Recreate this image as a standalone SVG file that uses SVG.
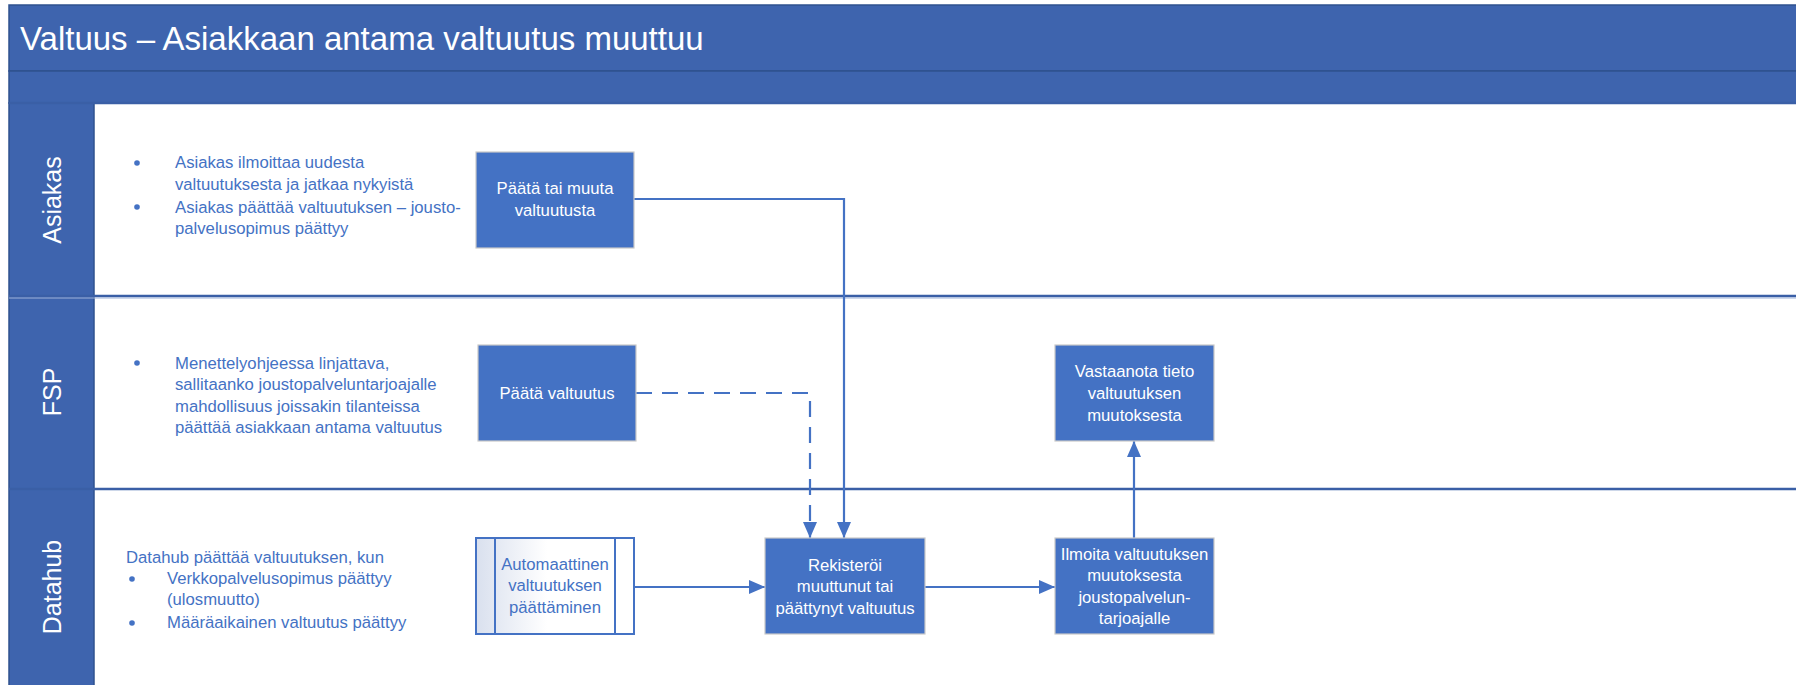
<svg xmlns="http://www.w3.org/2000/svg" width="1796" height="685" viewBox="0 0 1796 685">
<style>
text{font-family:"Liberation Sans",Arial,sans-serif}
.band{fill:#3E64AE;stroke:#2F528F;stroke-width:1.5}
.lane{fill:none;stroke:#3A5FA6;stroke-width:2.5}
.ltitle{fill:#ffffff;font-size:25px;text-anchor:middle}
.note{fill:#4472C4;font-size:16.7px}
.dot{fill:#4472C4}
.box{fill:#4472C4;stroke:#C9C9C9;stroke-width:1.2}
.bt{fill:#ffffff;font-size:16.7px;text-anchor:middle}
.sub{stroke:#4472C4;stroke-width:2}
.st{fill:#4472C4;font-size:16.7px;text-anchor:middle}
.c{fill:none;stroke:#4472C4;stroke-width:2.2}
.d{stroke-dasharray:16 10}
</style>
<defs>
<marker id="ah" viewBox="0 0 16 14" refX="16" refY="7" markerWidth="16" markerHeight="14" markerUnits="userSpaceOnUse" orient="auto">
<path d="M0,0 L16,7 L0,14 Z" fill="#4472C4"/>
</marker>
<linearGradient id="sg" x1="0" y1="0" x2="1" y2="0">
<stop offset="0" stop-color="#D9E0EE"/>
<stop offset="0.45" stop-color="#ffffff"/>
</linearGradient>
</defs>
<rect width="1796" height="685" fill="#ffffff"/>
<g id="pool">
<rect class="band" x="9" y="5" width="1800" height="66"/>
<text x="20" y="50" fill="#ffffff" style="font-size:33px">Valtuus – Asiakkaan antama valtuutus muuttuu</text>
<rect class="band" x="9" y="71" width="1800" height="32"/>
<rect x="9" y="103" width="85" height="590" fill="#3E64AE" stroke="#2F528F" stroke-width="1.5"/>
<line class="lane" x1="9" y1="103" x2="1796" y2="103"/>
<line class="lane" x1="9" y1="296" x2="1796" y2="296"/>
<line class="lane" x1="9" y1="489" x2="1796" y2="489"/>
<line x1="9" y1="298" x2="1796" y2="298" stroke="#9DB1D8" stroke-width="1"/>
</g>
<g id="lane-asiakas">
<text class="ltitle" transform="translate(61,200) rotate(-90)">Asiakas</text>
<circle class="dot" cx="137" cy="163" r="2.8"/>
<text class="note" x="175" y="168">Asiakas ilmoittaa uudesta</text>
<text class="note" x="175" y="190">valtuutuksesta ja jatkaa nykyistä</text>
<circle class="dot" cx="137" cy="207" r="2.8"/>
<text class="note" x="175" y="213">Asiakas päättää valtuutuksen – jousto-</text>
<text class="note" x="175" y="234">palvelusopimus päättyy</text>
</g>
<g id="lane-fsp">
<text class="ltitle" transform="translate(61,392) rotate(-90)">FSP</text>
<circle class="dot" cx="137" cy="363" r="2.8"/>
<text class="note" x="175" y="369">Menettelyohjeessa linjattava,</text>
<text class="note" x="175" y="390">sallitaanko joustopalveluntarjoajalle</text>
<text class="note" x="175" y="412">mahdollisuus joissakin tilanteissa</text>
<text class="note" x="175" y="433">päättää asiakkaan antama valtuutus</text>
</g>
<g id="lane-datahub">
<text class="ltitle" transform="translate(61,587) rotate(-90)">Datahub</text>
<text class="note" x="126" y="563">Datahub päättää valtuutuksen, kun</text>
<circle class="dot" cx="132" cy="579" r="2.8"/>
<text class="note" x="167" y="584">Verkkopalvelusopimus päättyy</text>
<text class="note" x="167" y="605">(ulosmuutto)</text>
<circle class="dot" cx="132" cy="623" r="2.8"/>
<text class="note" x="167" y="628">Määräaikainen valtuutus päättyy</text>
</g>
<g id="connectors">
<path class="c" d="M634,199 H844 V538" marker-end="url(#ah)"/>
<path class="c d" d="M636,393 H810 V538" marker-end="url(#ah)"/>
<path class="c" d="M634,587 H765" marker-end="url(#ah)"/>
<path class="c" d="M925,587 H1055" marker-end="url(#ah)"/>
<path class="c" d="M1134,538 V441" marker-end="url(#ah)"/>
</g>
<g id="n-paata-tai-muuta">
<rect class="box" x="476" y="152" width="158" height="96"/>
<text class="bt" x="555" y="194">Päätä tai muuta</text>
<text class="bt" x="555" y="216">valtuutusta</text>
</g>
<g id="n-paata-valtuutus">
<rect class="box" x="478" y="345" width="158" height="96"/>
<text class="bt" x="557" y="399">Päätä valtuutus</text>
</g>
<g id="n-vastaanota">
<rect class="box" x="1055" y="345" width="159" height="96"/>
<text class="bt" x="1134.5" y="377">Vastaanota tieto</text>
<text class="bt" x="1134.5" y="399">valtuutuksen</text>
<text class="bt" x="1134.5" y="421">muutoksesta</text>
</g>
<g id="n-automaattinen">
<rect x="476" y="538" width="158" height="96" fill="url(#sg)" stroke="#4472C4" stroke-width="2"/>
<line class="sub" x1="495" y1="538" x2="495" y2="634"/>
<line class="sub" x1="615" y1="538" x2="615" y2="634"/>
<text class="st" x="555" y="570">Automaattinen</text>
<text class="st" x="555" y="591">valtuutuksen</text>
<text class="st" x="555" y="613">päättäminen</text>
</g>
<g id="n-rekisteroi">
<rect class="box" x="765" y="538" width="160" height="96"/>
<text class="bt" x="845" y="571">Rekisteröi</text>
<text class="bt" x="845" y="592">muuttunut tai</text>
<text class="bt" x="845" y="614">päättynyt valtuutus</text>
</g>
<g id="n-ilmoita">
<rect class="box" x="1055" y="538" width="159" height="96"/>
<text class="bt" x="1134.5" y="560">Ilmoita valtuutuksen</text>
<text class="bt" x="1134.5" y="581">muutoksesta</text>
<text class="bt" x="1134.5" y="603">joustopalvelun-</text>
<text class="bt" x="1134.5" y="624">tarjoajalle</text>
</g>
</svg>
